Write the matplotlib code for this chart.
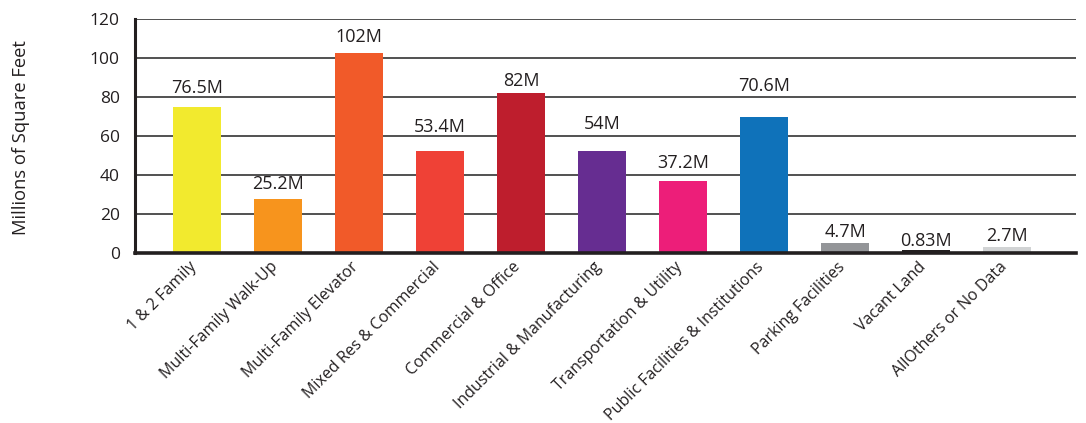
import matplotlib
matplotlib.use('Agg')
import matplotlib.pyplot as plt
import matplotlib.transforms as mtransforms
import numpy as np

categories = ['1 & 2 Family', 'Multi-Family Walk-Up', 'Multi-Family Elevator',
              'Mixed Res & Commercial', 'Commercial & Office', 'Industrial & Manufacturing',
              'Transportation & Utility', 'Public Facilities & Institutions',
              'Parking Facilities', 'Vacant Land', 'AllOthers or No Data']
heights = [75.0, 27.8, 103.0, 52.5, 82.2, 52.5, 37.1, 69.9, 5.3, 1.5, 3.2]
value_labels = ['76.5M', '25.2M', '102M', '53.4M', '82M', '54M', '37.2M', '70.6M',
                '4.7M', '0.83M', '2.7M']
label_y = [82.2, 32.8, 108.4, 62.2, 85.8, 63.7, 43.7, 83.2, 8.4, 3.7, 6.3]
colors = ['#F2EA2E', '#F7941D', '#F15A29', '#EF4136', '#BE1E2D', '#662D91',
          '#ED1E79', '#0F72BA', '#939598', '#231F20', '#D1D3D4']

plt.rcParams['font.family'] = ['Open Sans', 'DejaVu Sans']
plt.rcParams['text.color'] = '#231F20'

fig = plt.figure(figsize=(10.86, 4.23), dpi=100)
ax = fig.add_axes([0.1243, 0.401, 0.8665, 0.553])

x = np.arange(len(categories))
ax.set_axisbelow(True)
ax.yaxis.grid(True, color='#333333', linewidth=1.2)
ax.bar(x, heights, width=0.59, color=colors, zorder=2)

for xi, lab, ly in zip(x, value_labels, label_y):
    ax.text(xi, ly, lab, ha='center', va='baseline', fontsize=13, color='#231F20')

ax.set_xlim(-0.765, 10.85)
ax.set_ylim(0, 120)
ax.set_yticks(range(0, 121, 20))
ax.tick_params(axis='y', length=0, pad=11, labelsize=12.5, labelcolor='#231F20')
ax.tick_params(axis='x', length=0, pad=4)
ax.set_xticks(x)
ax.set_xticklabels(categories, rotation=45, ha='right', rotation_mode='anchor',
                   fontsize=11.5, color='#231F20')
# nudge the rotated labels so their ends sit under the bar centres
shift = mtransforms.ScaledTranslation(-6 / 72, 0, fig.dpi_scale_trans)
for t in ax.get_xticklabels():
    t.set_transform(t.get_transform() + shift)

for s in ['top', 'right']:
    ax.spines[s].set_visible(False)
ax.spines['left'].set_linewidth(2.2)
ax.spines['bottom'].set_linewidth(2.6)
ax.spines['left'].set_color('#231F20')
ax.spines['bottom'].set_color('#231F20')

fig.text(0.019, 0.674, 'Millions of Square Feet', rotation=90, ha='center', va='center',
         fontsize=13.2, color='#231F20')

fig.savefig('out.png', dpi=100)
